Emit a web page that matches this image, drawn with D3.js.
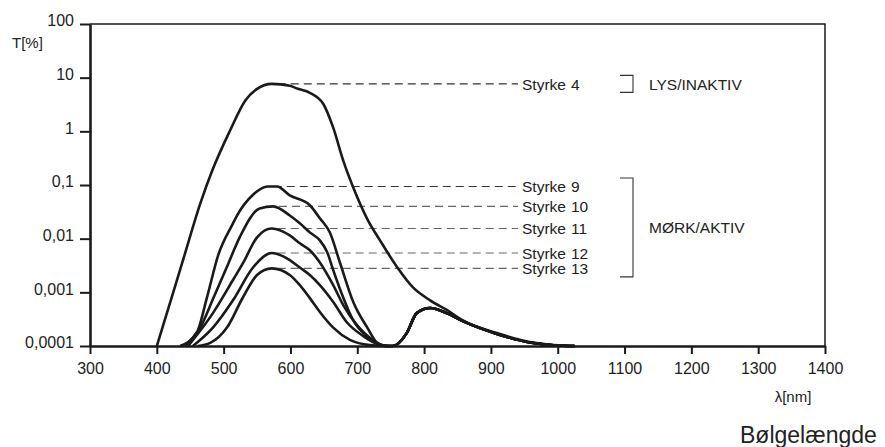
<!DOCTYPE html>
<html><head><meta charset="utf-8">
<script src="https://cdn.jsdelivr.net/npm/d3@7"></script>
<style>
body{margin:0;background:#fff}
svg{display:block;font-family:"Liberation Sans",Arial,Helvetica,sans-serif}
</style>
</head><body>
<svg id="chart" width="885" height="447"></svg>
<script>
// ---- data ----
const xTicks = [300,400,500,600,700,800,900,1000,1100,1200,1300,1400];
const yTicks = [100,10,1,0.1,0.01,0.001,0.0001];
const yTickLabels = ["100","10","1","0,1","0,01","0,001","0,0001"];
const seriesNames = ["4","9","10","11","12","13"];
const groupLabels = ["LYS/INAKTIV","MØRK/AKTIV"];

const s4Nm  = [400,420,440,465,484,509,533,550,572,599,611,629,649,664,679,694,716,734,760,783,809,834,858,909,958,1008,1025];
const s4T   = [0.0001,0.00065,0.0043,0.045,0.2,1.0,3.84,6.2,7.67,7.05,6.2,5.23,3.27,1.17,0.285,0.09,0.022,0.0093,0.0029,0.00125,0.00071,0.00047,0.0003,0.000174,0.000119,0.000102,0.0001];

const s9Nm  = [435,460,475,492,514,520,544,566,580,599,629,644,659,674,694,715,734,748];
const s9T   = [0.0001,0.00018,0.0008,0.005,0.0193,0.027,0.066,0.094,0.094,0.064,0.042,0.024,0.013,0.0036,0.00066,0.00022,0.000104,0.0001];

const s10Nm = [442,465,485,505,524,554,574,599,614,629,644,655,664,679,694,715,734,748];
const s10T  = [0.0001,0.00022,0.0008,0.003,0.0106,0.0366,0.04,0.027,0.0193,0.0131,0.0093,0.0056,0.0026,0.0008,0.0003,0.00015,0.000104,0.0001];

const s11Nm = [447,484,514,530,550,572,599,614,629,644,664,679,699,724,746];
const s11T  = [0.0001,0.00041,0.0017,0.0037,0.0106,0.0155,0.0115,0.0082,0.0061,0.0036,0.00136,0.00058,0.00025,0.000128,0.0001];

const s12Nm = [454,484,514,544,572,599,614,629,644,664,684,709,734,748];
const s12T  = [0.0001,0.00022,0.00071,0.0029,0.0054,0.004,0.0029,0.0021,0.00136,0.00066,0.00028,0.000153,0.000105,0.0001];

const s13Nm = [461,480,505,529,550,572,599,614,629,644,664,689,719,746];
const s13T  = [0.0001,0.000114,0.00022,0.00081,0.0021,0.0028,0.0021,0.00136,0.00078,0.00043,0.00022,0.00013,0.000104,0.0001];

// shared near-IR tail of the dark (active) states
const tailNm = [753,774,789,809,834,858,909,958,1008,1025];
const tailT  = [0.0001,0.000174,0.00041,0.00051,0.00041,0.00029,0.000168,0.000116,0.000101,0.0001];

// ---- chart ----
const svg = d3.select("#chart");
const x = d3.scaleLinear().domain([300,1400]).range([90,825]);
const y = d3.scaleLog().domain([0.0001,100]).range([346,24]);
const ink = "#1a1a1a";

const zip = (a,b) => a.map((v,i)=>[v,b[i]]);
const series = [
  {name:seriesNames[0], pts: zip(s4Nm,s4T), peak: d3.max(s4T), peakNm: s4Nm[s4T.indexOf(d3.max(s4T))]},
  ...[[s9Nm,s9T],[s10Nm,s10T],[s11Nm,s11T],[s12Nm,s12T],[s13Nm,s13T]].map((s,i)=>{
    const pk = d3.max(s[1]);
    return {name:seriesNames[i+1], pts: zip(s[0],s[1]).concat(zip(tailNm,tailT)), peak: pk, peakNm: s[0][s[1].indexOf(pk)]};
  })
];

// frame (top and right)
svg.append("path")
  .attr("d", `M${x(300)},${y(100)}H${x(1400)}V${y(0.0001)}`)
  .attr("fill","none").attr("stroke",ink).attr("stroke-width",1.5);

// axes
const yAxis = svg.append("g").attr("transform",`translate(${x(300)},0)`)
  .call(d3.axisLeft(y).tickValues(yTicks).tickFormat((d,i)=>yTickLabels[i]).tickSize(10).tickSizeOuter(0).tickPadding(6));
const xAxis = svg.append("g").attr("transform",`translate(0,${y(0.0001)})`)
  .call(d3.axisBottom(x).tickValues(xTicks).tickFormat(d3.format("d")).tickSize(8).tickSizeOuter(0).tickPadding(9));
[yAxis,xAxis].forEach(g=>{
  g.select(".domain").attr("stroke",ink).attr("stroke-width",2.6);
  g.selectAll(".tick line").attr("stroke",ink).attr("stroke-width",2);
  g.selectAll(".tick text").attr("fill","#222").style("font-size","16px");
});
yAxis.selectAll(".tick text").attr("dy","0.12em");

// dashed leader lines
svg.append("g").selectAll("line").data(series).join("line")
  .attr("x1", d=>x(d.peakNm)+6).attr("x2",518)
  .attr("y1", d=>y(d.peak)).attr("y2", d=>y(d.peak))
  .attr("stroke",(d,i)=> i<2 ? "#333" : "#666").attr("stroke-width",1.1)
  .attr("stroke-dasharray","8,5");

// curves
const line = d3.line().x(d=>x(d[0])).y(d=>y(Math.max(d[1],0.0001))).curve(d3.curveMonotoneX);
svg.append("g").selectAll("path").data(series).join("path")
  .attr("d", d=>line(d.pts))
  .attr("fill","none").attr("stroke",ink).attr("stroke-width",2.6)
  .attr("stroke-linejoin","round");

// labels "Styrke n"
const lab = svg.append("g").style("font-size","15.5px").attr("fill","#222");
lab.selectAll("text.s").data(series).join("text").attr("class","s")
  .attr("x",522).attr("y",d=>y(d.peak)).attr("dy","0.38em").text("Styrke");
lab.selectAll("text.n").data(series).join("text").attr("class","n")
  .attr("x",571).attr("y",d=>y(d.peak)).attr("dy","0.38em").text(d=>d.name);

// brackets and group labels
const groups = [
  {label:groupLabels[0], top:y(series[0].peak)-8.5, bot:y(series[0].peak)+8.5},
  {label:groupLabels[1], top:y(series[1].peak)-8.5, bot:y(series[5].peak)+8.5}
];
svg.append("g").selectAll("path").data(groups).join("path")
  .attr("d", d=>`M620,${d.top}H633V${d.bot}H620`)
  .attr("fill","none").attr("stroke","#333").attr("stroke-width",1.1);
svg.append("g").selectAll("text").data(groups).join("text")
  .attr("x",649).attr("y",d=>(d.top+d.bot)/2).attr("dy","0.38em")
  .style("font-size","15.5px").attr("fill","#222").text(d=>d.label);

// axis titles
svg.append("text").attr("x",12).attr("y",48).style("font-size","15px").attr("fill","#222").text("T[%]");
svg.append("text").attr("x",793).attr("y",402).attr("text-anchor","middle").style("font-size","15px").attr("fill","#222").text("λ[nm]");
svg.append("text").attr("x",740).attr("y",443).style("font-size","23px").attr("fill","#222").text("Bølgelængde");
</script>
</body></html>
